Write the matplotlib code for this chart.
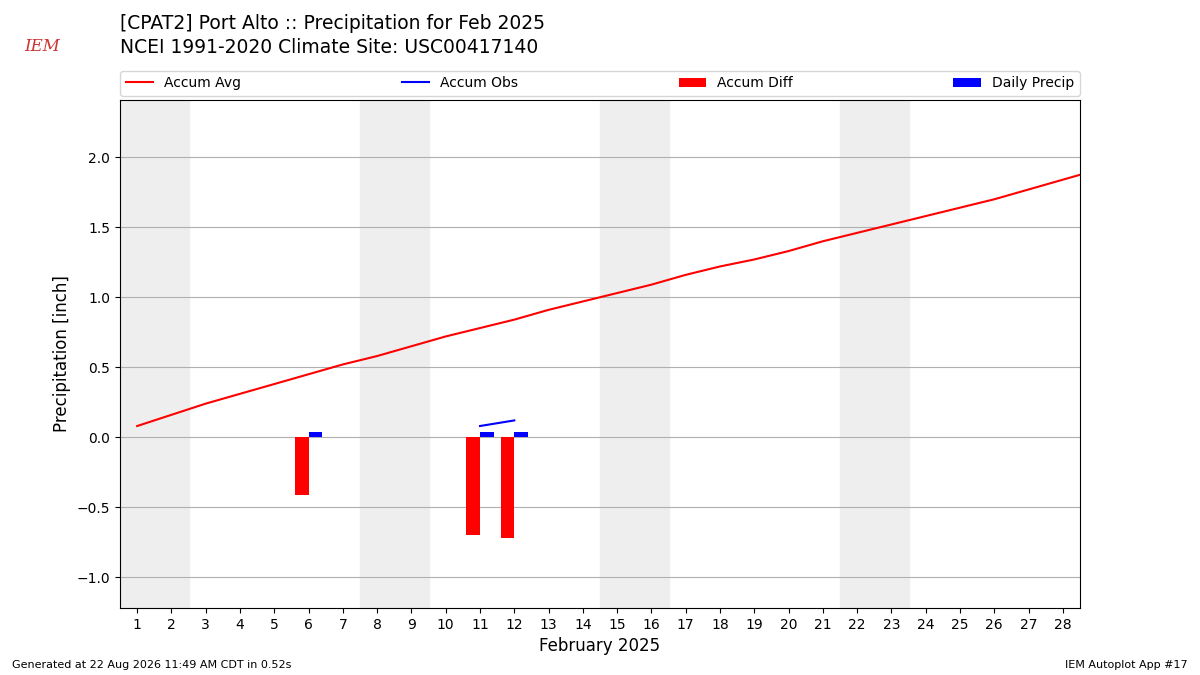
import numpy as np
import matplotlib.pyplot as plt

# Daily data for the month
days = np.arange(1, 30)
accum_avg = [0.08, 0.16, 0.24, 0.31, 0.38, 0.45, 0.52, 0.58, 0.65, 0.72,
             0.78, 0.84, 0.91, 0.97, 1.03, 1.09, 1.16, 1.22, 1.27, 1.33,
             1.40, 1.46, 1.52, 1.58, 1.64, 1.70, 1.77, 1.84, 1.91]
obs_days = [11, 12]
accum_obs = [0.08, 0.12]
precip_days = [6, 11, 12]
daily_precip = [0.04, 0.04, 0.04]
accum_diff = [-0.41, -0.70, -0.72]

fig = plt.figure(figsize=(12, 6.75), dpi=100)
ax = fig.add_axes([0.1, 0.0993, 0.8, 0.7527])

# Shade weekends
for start in [0.5, 7.5, 14.5, 21.5]:
    ax.axvspan(start, start + 2, color='#eeeeee', zorder=0)

ax.plot(days, accum_avg, color='r', label='Accum Avg', zorder=3)
ax.plot(obs_days, accum_obs, color='b', label='Accum Obs', zorder=3)
ax.bar(np.array(precip_days) - 0.2, accum_diff, width=0.4, color='r', label='Accum Diff', zorder=3)
ax.bar(np.array(precip_days) + 0.2, daily_precip, width=0.4, color='b', label='Daily Precip', zorder=3)

ax.set_xlim(0.5, 28.5)
ax.set_ylim(-1.22, 2.41)
ax.set_xticks(range(1, 29))
ax.set_yticks([-1.0, -0.5, 0.0, 0.5, 1.0, 1.5, 2.0])
ax.grid(axis='y', zorder=1)
ax.set_axisbelow(True)
ax.set_xlabel('February 2025', fontsize=12)
ax.set_ylabel('Precipitation [inch]', fontsize=12)
ax.legend(loc='lower left', bbox_to_anchor=(0, 1.008, 1, 0.05), ncol=4, mode='expand',
          borderaxespad=0, fontsize=10)

fig.text(0.1, 0.965, '[CPAT2] Port Alto :: Precipitation for Feb 2025', fontsize=13.5, va='center')
fig.text(0.1, 0.93, 'NCEI 1991-2020 Climate Site: USC00417140', fontsize=13.5, va='center')
fig.text(0.035, 0.925, 'IEM', fontsize=12, color='#cc3333', style='italic', family='serif', ha='center')
fig.text(0.01, 0.01, 'Generated at 22 Aug 2026 11:49 AM CDT in 0.52s', fontsize=8)
fig.text(0.99, 0.01, 'IEM Autoplot App #17', fontsize=8, ha='right')

fig.savefig('out.png', dpi=100)
